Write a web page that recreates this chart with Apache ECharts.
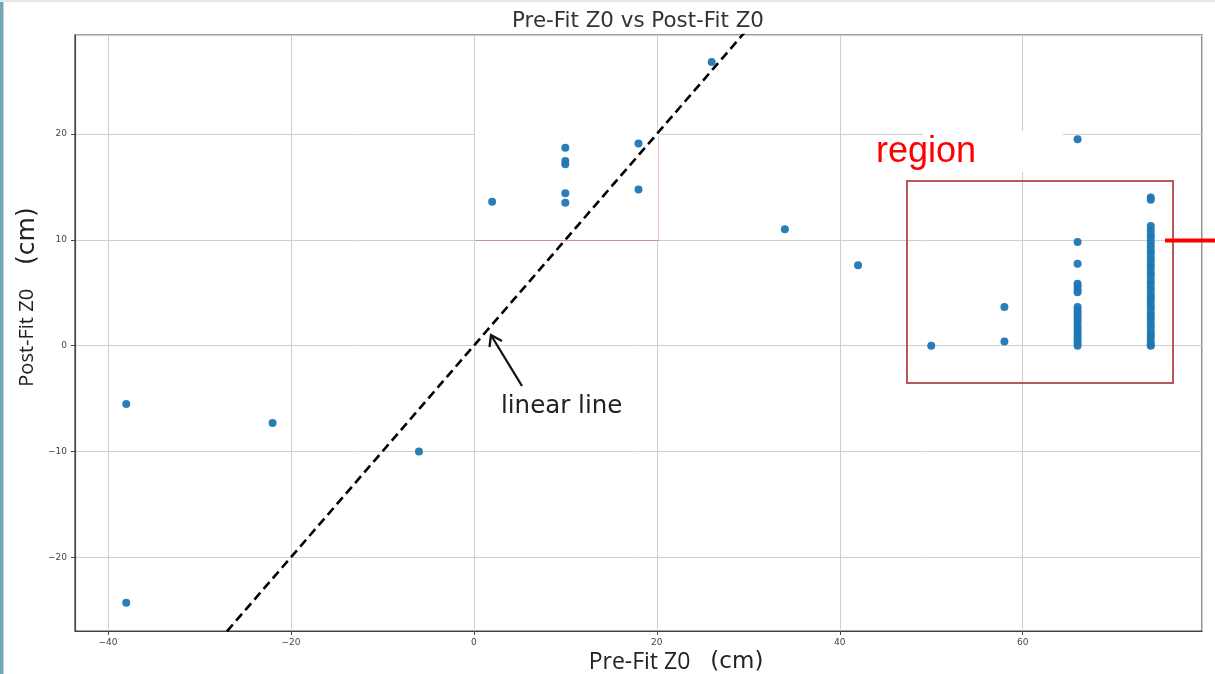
<!DOCTYPE html>
<html>
<head>
<meta charset="utf-8">
<script src="https://cdn.jsdelivr.net/npm/echarts@6/dist/echarts.min.js"></script>
<style>
  html, body { margin: 0; padding: 0; background: #fff; }
  #chart { width: 1215px; height: 674px; }
</style>
</head>
<body>
<div id="chart"></div>
<script>
// Pre-fit vs post-fit track Z0 (cm)
const preFitZ0 = [
  -38, -38, -22, -6, 2,
  10, 10, 10, 10, 10,
  18, 18, 26, 34, 42, 50, 58, 58,
  66, 66, 66, 66, 66, 66, 66, 66, 66, 66, 66, 66, 66, 66, 66, 66, 66, 66, 66, 66,
  74, 74, 74, 74, 74, 74, 74, 74, 74, 74, 74, 74, 74, 74, 74, 74, 74, 74, 74, 74,
  74, 74, 74, 74, 74, 74, 74, 74, 74, 74, 74, 74, 74, 74, 74, 74
];
const postFitZ0 = [
  -5.5, -24.3, -7.3, -10.0, 13.6,
  18.7, 17.45, 17.15, 14.4, 13.5,
  19.1, 14.75, 26.8, 11.0, 7.6, 0.0, 3.65, 0.4,
  19.5, 9.8, 7.75, 5.85, 5.6, 5.3, 5.05, 3.65, 3.35, 3.05, 2.75, 2.45, 2.15, 1.8, 1.5, 1.2, 0.9, 0.6, 0.3, 0.0,
  14.0, 13.8, 11.3, 10.9, 10.5, 10.2, 9.8, 9.4, 9.0, 8.7, 8.3, 8.0, 7.6, 7.3, 6.9, 6.6, 6.2, 5.9, 5.5, 5.2,
  4.8, 4.5, 4.2, 3.8, 3.5, 3.1, 2.8, 2.5, 2.1, 1.8, 1.4, 1.1, 0.8, 0.4, 0.1, 0.0
];
// reference y = x line end points
const identityX = [-40, 40];
const identityY = [-40, 40];

const xTickLabels = [-40, -20, 0, 20, 40, 60];
const yTickLabels = [-20, -10, 0, 10, 20];

const points = preFitZ0.map((x, i) => [x, postFitZ0[i]]);
const identityLine = identityX.map((x, i) => [x, identityY[i]]);

const fmt = (list) => (v) => {
  const hit = list.find(t => Math.abs(t - v) < 1e-6);
  return hit === undefined ? '' : String(hit).replace('-', '\u2212');
};

const chart = echarts.init(document.getElementById('chart'), null, { renderer: 'canvas' });

chart.setOption({
  animation: false,
  backgroundColor: '#ffffff',
  grid: {
    left: 75, right: 13, top: 35, bottom: 43,
    show: true, borderColor: '#444', borderWidth: 1.2, backgroundColor: 'transparent'
  },
  xAxis: {
    type: 'value', min: -43.6, max: 79.6,
    axisLine: { show: true, onZero: false, lineStyle: { color: '#444', width: 1.2 } },
    axisTick: { show: true, inside: false, length: 4, lineStyle: { color: '#444' } },
    axisLabel: {
      show: true, margin: 7, color: '#444', fontSize: 9, fontFamily: 'DejaVu Sans',
      formatter: fmt(xTickLabels), showMinLabel: false, showMaxLabel: false
    },
    splitLine: { show: true, lineStyle: { color: '#cfcfcf', width: 1 } }
  },
  yAxis: {
    type: 'value', min: -26.96, max: 29.36,
    axisLine: { show: true, onZero: false, lineStyle: { color: '#444', width: 1.2 } },
    axisTick: { show: true, inside: false, length: 4, lineStyle: { color: '#444' } },
    axisLabel: {
      show: true, margin: 8, color: '#444', fontSize: 9, fontFamily: 'DejaVu Sans',
      formatter: fmt(yTickLabels), showMinLabel: false, showMaxLabel: false
    },
    splitLine: { show: true, lineStyle: { color: '#cfcfcf', width: 1 } }
  },
  series: [
    {
      name: 'identity',
      type: 'line',
      data: identityLine,
      clip: true,
      symbol: 'none',
      silent: true,
      z: 3,
      lineStyle: { color: '#000', width: 2.6, type: [9, 5] }
    },
    {
      name: 'Z0',
      type: 'scatter',
      data: points,
      symbol: 'circle',
      symbolSize: 8,
      z: 4,
      itemStyle: { color: '#1f77b4', opacity: 0.95 }
    }
  ],
  graphic: [
    // page edge
    { type: 'rect', shape: { x: 0, y: 0, width: 3.5, height: 674 }, style: { fill: '#74a5b4' }, z: 20 },
    { type: 'rect', shape: { x: 0, y: 0, width: 1215, height: 2 }, style: { fill: '#e8e8e8' }, z: 20 },
    // highlight patches behind the data
    { type: 'rect', shape: { x: 475, y: 132, width: 184, height: 108 }, style: { fill: '#ffffff' }, z: 1 },
    { type: 'line', shape: { x1: 475, y1: 240.5, x2: 659, y2: 240.5 }, style: { stroke: 'rgba(200,70,70,0.45)', lineWidth: 1 }, z: 1 },
    { type: 'line', shape: { x1: 658.5, y1: 136, x2: 658.5, y2: 240 }, style: { stroke: 'rgba(200,70,70,0.35)', lineWidth: 1 }, z: 1 },
    { type: 'rect', shape: { x: 923, y: 131, width: 140, height: 41 }, style: { fill: '#ffffff' }, z: 1 },
    // title
    {
      type: 'text', x: 638, y: 21, z: 20,
      style: { text: 'Pre-Fit Z0 vs Post-Fit Z0', fontFamily: 'DejaVu Sans', fontSize: 21.4, fill: '#333', align: 'center', verticalAlign: 'middle' }
    },
    // axis names
    {
      type: 'text', x: 676, y: 662, z: 20,
      style: {
        text: '{a|Pre-Fit Z0}{b|(cm)}', align: 'center', verticalAlign: 'middle',
        rich: {
          a: { fontFamily: 'Open Sans', fontSize: 23, fill: '#222' },
          b: { fontFamily: 'DejaVu Sans', fontSize: 23, fill: '#222', padding: [0, 0, 0, 20] }
        }
      }
    },
    {
      type: 'text', x: 27, y: 297, rotation: Math.PI / 2, z: 20,
      style: {
        text: '{a|Post-Fit Z0}{b|(cm)}', align: 'center', verticalAlign: 'middle',
        rich: {
          a: { fontFamily: 'Open Sans', fontSize: 20, fill: '#222' },
          b: { fontFamily: 'DejaVu Sans', fontSize: 25, fill: '#222', padding: [0, 0, 0, 24] }
        }
      }
    },
    // identity-line annotation
    {
      type: 'line', z: 20,
      shape: { x1: 522, y1: 386, x2: 491.5, y2: 336 },
      style: { stroke: '#111', lineWidth: 2.3 }
    },
    {
      type: 'polyline', z: 20,
      shape: { points: [[489.5, 347], [491, 335], [502, 341]] },
      style: { stroke: '#111', lineWidth: 2.3, fill: null, lineJoin: 'miter' }
    },
    {
      type: 'text', x: 501, y: 407, z: 20,
      style: { text: 'linear line', fontFamily: 'DejaVu Sans', fontSize: 24.5, fill: '#222', align: 'left', verticalAlign: 'middle' }
    },
    // region annotation
    {
      type: 'text', x: 876, y: 152, z: 20,
      style: { text: 'region', fontFamily: 'Liberation Sans', fontSize: 36, fill: '#ff0000', align: 'left', verticalAlign: 'middle' }
    },
    {
      type: 'rect', z: 20,
      shape: { x: 907, y: 181, width: 266, height: 202 },
      style: { fill: null, stroke: '#b55a5a', lineWidth: 2 }
    },
    {
      type: 'line', z: 20,
      shape: { x1: 1165, y1: 240.5, x2: 1215, y2: 240.5 },
      style: { stroke: '#ff0000', lineWidth: 4 }
    }
  ]
});
</script>
</body>
</html>
